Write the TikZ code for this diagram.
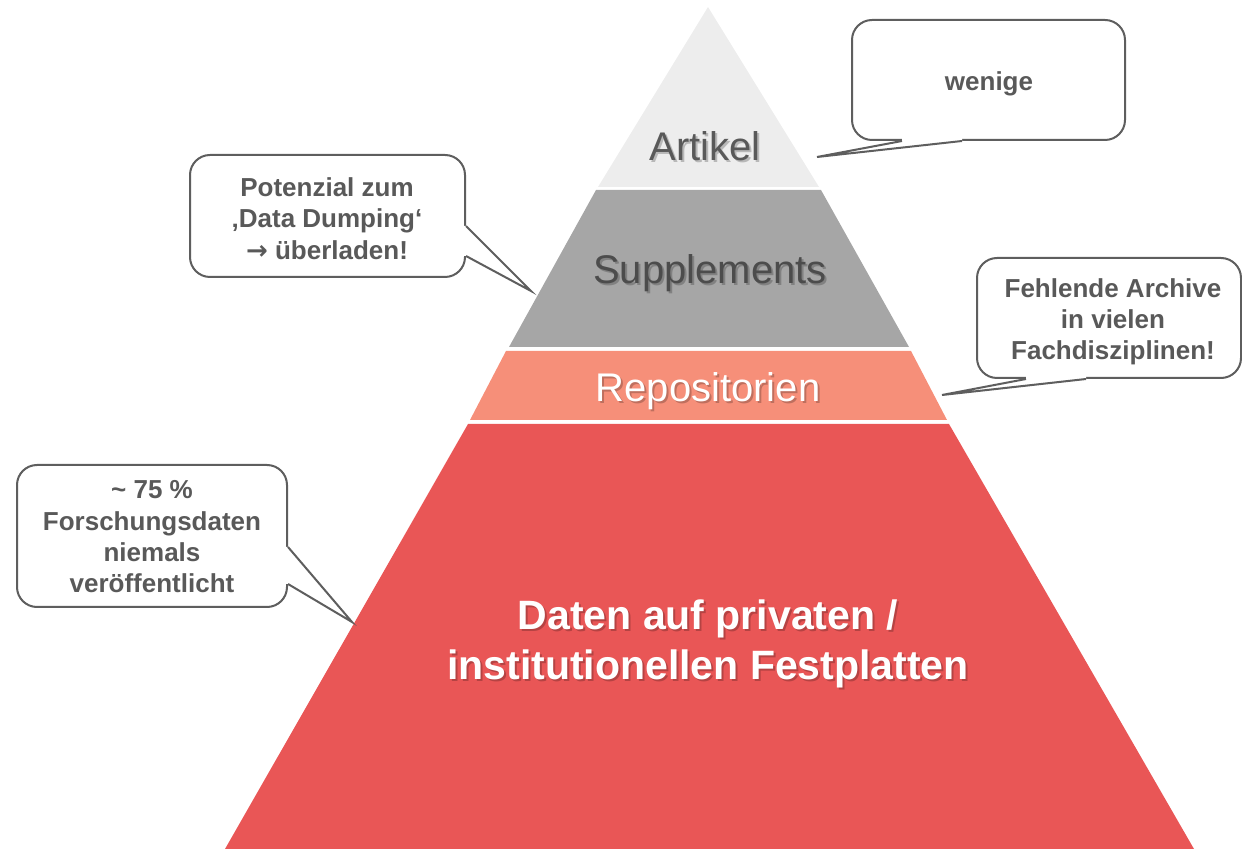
\documentclass[tikz,border=0pt]{standalone}
\usepackage{fontspec}
\setmainfont{Liberation Sans}
\newfontfamily\arrowfont{DejaVu Sans}
\usetikzlibrary{calc}
\definecolor{artikelc}{HTML}{EDEDED}
\definecolor{suppc}{HTML}{A6A6A6}
\definecolor{repoc}{HTML}{F68F79}
\definecolor{datenc}{HTML}{E95656}
\definecolor{cborder}{HTML}{5E5E5E}
\definecolor{textgray}{HTML}{595959}
\begin{document}
\begin{tikzpicture}[x=0.5pt,y=-0.5pt,
  cbox/.style={draw=cborder,fill=white,line width=1pt,rounded corners=10pt,inner sep=0pt},
  cptr/.style={draw=cborder,line width=1pt,line join=miter},
  ctext/.style={font=\bfseries\fontsize{13pt}{15.6pt}\selectfont,text=textgray,align=center,inner sep=0pt},
  layertext/.style={font=\fontsize{20pt}{24pt}\selectfont,inner sep=0pt,anchor=base},
  bigtext/.style={font=\bfseries\fontsize{20.5pt}{25pt}\selectfont,text=white,align=center,inner sep=0pt},
  shadowtext/.style={text=black,text opacity=0.22}]
\useasboundingbox (0,0) rectangle (1242,849);
\clip (0,0) rectangle (1242,849);
% pyramid layers
\fill[artikelc] (708,7) -- (819,187) -- (598,187) -- cycle;
\fill[suppc] (596,190) -- (821,190) -- (909,347) -- (509,347) -- cycle;
\fill[repoc] (506,351) -- (911,351) -- (947,420) -- (470,420) -- cycle;
\fill[datenc] (468,424) -- (949,424) -- (1194,849) -- (225,849) -- cycle;
% layer labels (with soft text shadow)
\node[layertext,shadowtext] (artikelsh) at (707,163) {Artikel};
\node[layertext,text=textgray] (artikel) at (705,161) {Artikel};
\node[layertext,shadowtext] (suppsh) at (712,286) {Supplements};
\node[layertext,text=textgray!85!black] (supp) at (710,284) {Supplements};
\node[layertext,shadowtext] (reposh) at (710,404) {Repositorien};
\node[layertext,text=white] (repo) at (708,402) {Repositorien};
\node[bigtext,shadowtext] (datensh) at (710,646) {Daten auf privaten /\\institutionellen Festplatten};
\node[bigtext] (daten) at (708,644) {Daten auf privaten /\\institutionellen Festplatten};
% callout: wenige
\node[cbox,minimum width=136.5pt,minimum height=60pt] (wbox) at (988.5,80) {};
\coordinate (wtip) at (817,157);
\coordinate (wb1) at ($(wbox.south west)+(51,0)$);
\coordinate (wb2) at ($(wbox.south west)+(111,0)$);
\fill[white] ($(wb1)+(0,-3)$) -- (wb1) -- (wtip) -- (wb2) -- ($(wb2)+(0,-3)$) -- cycle;
\draw[cptr] (wb1) -- (wtip) -- (wb2);
\node[ctext] (wtext) at (989,83.4) {wenige};
% callout: Potenzial
\node[cbox,minimum width=137.5pt,minimum height=61pt] (pbox) at (327.5,216) {};
\coordinate (ptip) at (531,291);
\coordinate (pb1) at ($(pbox.north east)+(0,72)$);
\coordinate (pb2) at ($(pbox.north east)+(0,102)$);
\fill[white] ($(pb1)+(-3,0)$) -- (pb1) -- (ptip) -- (pb2) -- ($(pb2)+(-3,0)$) -- cycle;
\draw[cptr] (pb1) -- (ptip) -- (pb2);
\node[ctext] (ptext) at (327,218.7) {Potenzial zum\\‚Data Dumping‘\\{\arrowfont\bfseries →} überladen!};
% callout: Fehlende
\node[cbox,minimum width=132pt,minimum height=60pt] (fbox) at (1109,318) {};
\coordinate (ftip) at (942,395);
\coordinate (fb1) at ($(fbox.south west)+(50,0)$);
\coordinate (fb2) at ($(fbox.south west)+(110,0)$);
\fill[white] ($(fb1)+(0,-3)$) -- (fb1) -- (ftip) -- (fb2) -- ($(fb2)+(0,-3)$) -- cycle;
\draw[cptr] (fb1) -- (ftip) -- (fb2);
\node[ctext] (ftext) at (1113,321.5) {Fehlende Archive\\in vielen\\Fachdisziplinen!};
% callout: 75 %
\node[cbox,minimum width=135pt,minimum height=71pt] (sbox) at (152,536) {};
\coordinate (stip) at (352,622);
\coordinate (sb1) at ($(sbox.north east)+(0,83)$);
\coordinate (sb2) at ($(sbox.north east)+(0,120)$);
\fill[white] ($(sb1)+(-3,0)$) -- (sb1) -- (stip) -- (sb2) -- ($(sb2)+(-3,0)$) -- cycle;
\draw[cptr] (sb1) -- (stip) -- (sb2);
\node[ctext] (stext) at (152,536.7) {\textasciitilde{} 75 \%\\Forschungsdaten\\niemals\\veröffentlicht};
\end{tikzpicture}
\end{document}
